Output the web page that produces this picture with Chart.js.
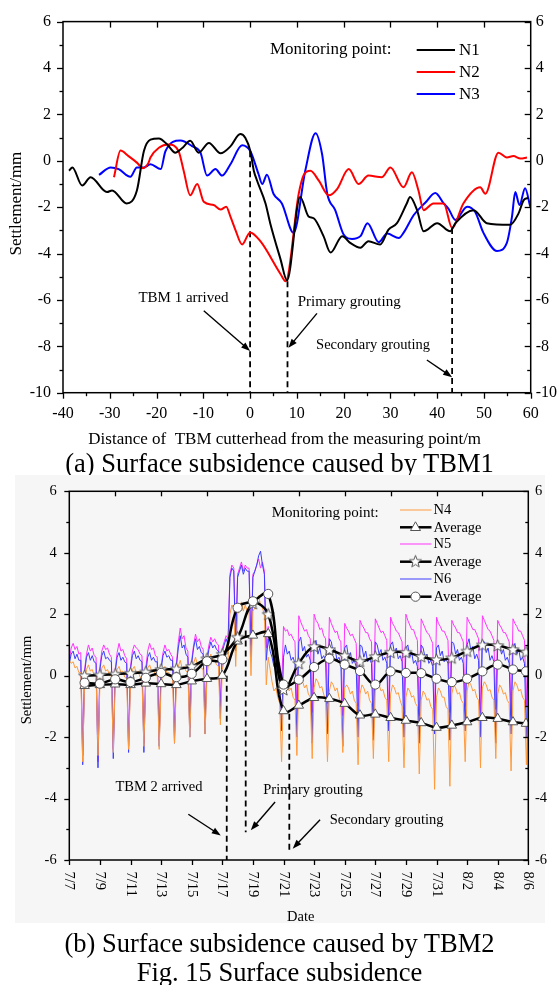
<!DOCTYPE html>
<html>
<head>
<meta charset="utf-8">
<title>Fig. 15 Surface subsidence</title>
<script src="https://cdn.jsdelivr.net/npm/chart.js@4.4.1/dist/chart.umd.min.js"></script>
<style>
  html, body { margin: 0; padding: 0; background: #fff; }
  body { position: relative; width: 559px; height: 985px; overflow: hidden; font-family: "Liberation Serif", "Times New Roman", serif; }
  canvas { position: absolute; left: 0; }
  #chartA { top: 0; }
  #chartB { top: 470px; }
  .caption { position: absolute; left: 0; width: 559px; text-align: center; font-size: 26.5px; line-height: 30px; color: #000; white-space: nowrap; }
</style>
</head>
<body>
<canvas id="chartA" width="559" height="452"></canvas>
<div class="caption" style="top:448px">(a) Surface subsidence caused by TBM1</div>
<canvas id="chartB" width="559" height="455"></canvas>
<div class="caption" style="top:928px">(b) Surface subsidence caused by TBM2</div>
<div class="caption" style="top:957px">Fig. 15 Surface subsidence</div>

<script>
// =================== (a) DATA: settlement vs. distance of TBM1 cutterhead ===================
const n1Dist = [-38.7, -38, -35.9, -34.1, -30.6, -29.5, -26.4, -24.2, -22.7, -21.3, -19.5, -17.7, -16, -14.5, -12.8, -11, -8.8, -6.3, -4.2, -2.1, -1, 0.06, 0.8, 1.5, 3.3, 4.3, 6.5, 7.9, 10.7, 12.5, 13.6, 15.7, 17.2, 19.7, 21.4, 23.6, 25.3, 27.8, 29.6, 31.4, 33.5, 34.2, 35.7, 37.1, 40, 42.8, 43.9, 47.8, 50.6, 55.6, 57.4, 58.5, 59.5];
const n1Settle = [-0.43, -0.29, -1.07, -0.71, -1.35, -1.28, -1.84, -1.28, 0.42, 0.91, 0.96, 0.7, 0.35, 0.55, 0.86, 0.35, 0.77, 0.32, 0.62, 1.15, 0.98, 0.41, -0.43, -0.86, -1.84, -2.69, -4.24, -5.16, -1.56, -2.4, -2.48, -3.25, -3.96, -3.25, -3.54, -3.75, -3.47, -3.61, -2.97, -2.69, -1.84, -1.56, -2.13, -3.04, -2.69, -3.04, -2.69, -2.13, -2.69, -2.76, -2.27, -1.7, -1.6];

const n2Dist = [-29.1, -27.7, -26, -24.2, -22.9, -21.7, -21.3, -19.5, -17.4, -15.3, -14.2, -12.8, -11.3, -9.9, -7.8, -6.3, -5.1, -4.2, -3.1, -1.7, 0, 2.2, 6.5, 7.6, 10.4, 11.5, 12.9, 14.7, 16.8, 18.6, 21.1, 23.2, 25.3, 28.2, 30, 32.8, 34.6, 36, 37.1, 39.2, 41.4, 43.2, 45.6, 49.2, 50.3, 53.1, 54.9, 56.3, 57.8, 59.2];
const n2Settle = [-0.71, 0.44, 0.2, -0.08, -0.32, -0.08, 0.14, 0.56, 0.7, 0.42, -0.43, -1.49, -1.0, -1.77, -1.91, -2.1, -1.98, -2.41, -3.0, -3.61, -3.09, -3.47, -4.88, -5.2, -1.42, -0.6, -0.43, -0.86, -1.49, -1.22, -0.36, -1.0, -0.64, -0.71, -0.29, -1.14, -0.5, -1.28, -2.13, -1.84, -1.84, -2.9, -1.84, -1.14, -1.42, 0.35, 0.14, 0.2, 0.1, 0.14];

const n3Dist = [-32.3, -29.8, -28.1, -25.6, -24.2, -22.7, -21.3, -19.1, -18.1, -14.9, -12.4, -10.6, -9.2, -7.4, -6, -4.2, -1.7, 0.06, 1.8, 2.6, 3.6, 5, 6.8, 9.3, 11.8, 14, 15.4, 16.5, 18.2, 20, 21.8, 23.6, 25.1, 27.5, 29.3, 31.8, 32.8, 35, 37.5, 39.6, 41.4, 42.4, 43.9, 46.4, 48.1, 49.9, 52.8, 54.9, 56, 56.7, 57.6, 58.8, 59.9];
const n3Settle = [-0.61, -0.29, -0.36, -0.69, -0.29, -0.29, -0.15, -0.36, 0.41, 0.87, 0.63, 0.35, -0.64, -0.36, -0.64, -0.15, 0.67, 0.41, -0.57, -1.0, -0.6, -1.42, -1.84, -3.11, -0.43, 1.19, 0.28, -1.42, -2.13, -3.18, -3.37, -3.25, -2.69, -3.51, -3.14, -3.33, -3.11, -2.34, -1.8, -1.39, -1.84, -2.06, -2.55, -1.98, -2.2, -3.11, -3.89, -3.54, -2.41, -1.35, -1.91, -1.18, -1.98];

// event markers (distance, top of the dashed line)
const eventsA = [[0, 0.41], [8, -5.2], [43.2, -2.9]];

// =================== (b) DATA: settlement vs. date, TBM2 ===================
// readings every 3 hours from 7/7 00:00 (eight per day)
const sampleHours = 3;
const n4Settle = [
  0.5, 0.4, 0.45, 0.25, 0.3, 0.1, 0.1, -2.8,
  -0.2, 0.2, 0.35, 0.15, 0.2, 0.0, 0.0, -2.6,
  -0.3, 0.25, 0.35, 0.15, 0.2, 0.0, 0.0, -2.5,
  -0.2, 0.2, 0.3, 0.1, 0.15, -0.05, -0.1, -2.4,
  -0.3, 0.2, 0.3, 0.1, 0.15, -0.05, -0.1, -2.3,
  -0.2, 0.25, 0.35, 0.15, 0.2, 0.0, 0.0, -2.4,
  -0.3, 0.2, 0.3, 0.1, 0.1, -0.05, -0.1, -2.2,
  -0.2, 0.3, 0.5, 0.25, 0.3, 0.15, 0.1, -2.0,
  -0.1, 0.4, 0.6, 0.35, 0.4, 0.25, 0.2, -1.9,
  0.0, 0.5, 0.7, 0.45, 0.5, 0.35, 0.3, -1.6,
  0.2, 0.5, 0.6, 0.5, 2.0, 2.3, 2.2, 0.3,
  2.0, 2.2, 2.4, 2.1, 2.3, 2.1, 2.1, 0.0,
  2.1, 2.2, 2.4, 2.6, 2.3, 2.2, 2.0, -0.3,
  0.6, 0.2, -0.2, -0.5, -0.4, -0.7, -0.9, -2.8,
  -0.5, -0.2, -0.3, -0.5, -0.4, -0.7, -0.8, -2.6,
  -0.3, 0.0, -0.2, -0.4, -0.3, -0.6, -0.7, -2.7,
  -0.4, -0.1, -0.2, -0.4, -0.35, -0.6, -0.8, -2.8,
  -0.5, -0.2, -0.3, -0.5, -0.4, -0.7, -0.9, -2.5,
  -0.4, -0.3, -0.4, -0.6, -0.5, -0.8, -0.9, -2.9,
  -0.6, -0.3, -0.4, -0.6, -0.5, -0.8, -0.9, -2.7,
  -0.5, -0.2, -0.3, -0.5, -0.45, -0.7, -0.8, -2.8,
  -0.6, -0.3, -0.4, -0.6, -0.55, -0.8, -1.0, -3.0,
  -0.7, -0.4, -0.5, -0.7, -0.65, -0.9, -1.0, -3.2,
  -0.8, -0.5, -0.6, -0.8, -0.75, -1.0, -1.1, -3.7,
  -0.7, -0.4, -0.5, -0.7, -0.7, -1.0, -1.1, -3.6,
  -0.6, -0.3, -0.4, -0.6, -0.55, -0.8, -0.9, -2.8,
  -0.5, -0.2, -0.3, -0.5, -0.45, -0.7, -0.8, -3.0,
  -0.4, -0.2, -0.3, -0.5, -0.45, -0.7, -0.8, -2.7,
  -0.6, -0.3, -0.4, -0.6, -0.55, -0.8, -0.9, -3.1,
  -0.5, -0.2, -0.3, -0.5, -0.45, -0.7, -0.8, -2.9,
  -0.4
];
const n5Settle = [
  0.5, 0.9, 1.05, 0.85, 0.95, 0.7, 0.75, -2.6,
  0.2, 0.7, 1.0, 0.8, 0.9, 0.65, 0.6, -2.8,
  0.3, 0.8, 1.0, 0.85, 0.9, 0.7, 0.6, -2.4,
  0.2, 0.75, 1.05, 0.8, 0.85, 0.65, 0.55, -2.3,
  0.3, 0.8, 1.0, 0.9, 0.85, 0.7, 0.65, -2.2,
  0.25, 0.8, 1.05, 0.85, 0.9, 0.65, 0.6, -2.1,
  0.3, 0.75, 1.0, 0.8, 0.85, 0.7, 0.6, -2.0,
  0.4, 1.1, 1.55, 1.2, 1.3, 0.9, 0.8, -1.7,
  0.5, 1.0, 1.35, 1.1, 1.2, 0.95, 0.85, -1.6,
  0.6, 1.0, 1.25, 1.1, 1.2, 1.05, 1.0, -1.0,
  0.9, 1.1, 1.3, 1.2, 3.3, 3.6, 3.5, 1.2,
  3.3, 3.5, 3.7, 3.4, 3.6, 3.5, 3.5, 1.0,
  3.3, 3.4, 3.6, 3.8, 3.5, 3.7, 3.4, 0.9,
  1.6, 1.2, 0.9, 0.6, 0.7, 0.5, 0.4, -0.6,
  1.6, 1.45, 1.5, 1.3, 1.35, 1.2, 1.1, -1.1,
  1.95, 1.75, 1.6, 1.45, 1.5, 1.3, 1.2, -1.2,
  2.0, 1.8, 1.7, 1.5, 1.55, 1.3, 1.2, -0.9,
  1.9, 1.7, 1.55, 1.4, 1.45, 1.2, 1.1, -1.3,
  1.7, 1.55, 1.45, 1.3, 1.35, 1.2, 1.05, -1.0,
  1.8, 1.65, 1.55, 1.4, 1.4, 1.2, 1.1, -1.2,
  1.85, 1.7, 1.55, 1.4, 1.45, 1.3, 1.15, -1.4,
  1.9, 1.7, 1.6, 1.45, 1.4, 1.25, 1.1, -1.1,
  2.0, 1.8, 1.65, 1.5, 1.5, 1.3, 1.15, -1.3,
  1.85, 1.7, 1.55, 1.4, 1.35, 1.2, 1.05, -1.5,
  1.9, 1.7, 1.6, 1.45, 1.45, 1.3, 1.15, -1.2,
  1.8, 1.65, 1.55, 1.4, 1.4, 1.25, 1.1, -1.0,
  1.9, 1.75, 1.65, 1.5, 1.5, 1.35, 1.2, -1.2,
  1.95, 1.8, 1.65, 1.5, 1.45, 1.3, 1.15, -1.1,
  1.8, 1.65, 1.55, 1.4, 1.4, 1.25, 1.1, -1.3,
  1.85, 1.7, 1.6, 1.45, 1.45, 1.3, 1.15, -1.0,
  1.7
];
const n6Settle = [
  0.4, 0.7, 0.8, 0.55, 0.7, 0.5, 0.5, -2.9,
  0.1, 0.6, 0.75, 0.5, 0.65, 0.45, 0.4, -3.0,
  0.2, 0.65, 0.8, 0.55, 0.6, 0.5, 0.45, -2.7,
  0.1, 0.6, 0.75, 0.5, 0.6, 0.45, 0.4, -2.5,
  0.2, 0.65, 0.8, 0.55, 0.65, 0.5, 0.45, -2.5,
  0.1, 0.6, 0.75, 0.5, 0.6, 0.45, 0.45, -2.3,
  0.2, 0.65, 0.8, 0.6, 0.65, 0.5, 0.5, -2.2,
  0.3, 0.9, 1.3, 0.9, 1.0, 0.7, 0.6, -2.0,
  0.4, 0.9, 1.2, 0.85, 0.95, 0.75, 0.7, -1.9,
  0.5, 0.85, 1.1, 0.9, 1.0, 0.85, 0.8, -1.4,
  0.8, 1.0, 1.2, 1.0, 3.2, 3.5, 3.4, 0.8,
  3.2, 3.4, 3.6, 3.3, 3.5, 3.4, 3.4, 0.6,
  3.2, 3.4, 3.6, 3.9, 4.05, 3.6, 3.3, 0.5,
  1.2, 0.8, 0.6, 0.3, 0.4, 0.1, -0.2, -1.8,
  0.6, 1.0, 0.7, 0.8, 0.5, 0.6, 0.4, -2.0,
  1.1, 1.25, 0.8, 0.95, 0.6, 0.7, 0.5, -2.2,
  1.0, 1.15, 0.7, 0.9, 0.55, 0.65, 0.5, -1.9,
  1.2, 1.1, 0.75, 0.85, 0.5, 0.6, 0.4, -2.3,
  0.9, 1.0, 0.6, 0.75, 0.4, 0.5, 0.3, -2.0,
  1.0, 0.95, 0.6, 0.8, 0.45, 0.55, 0.4, -2.1,
  1.1, 1.0, 0.7, 0.85, 0.5, 0.6, 0.4, -1.8,
  1.0, 1.1, 0.75, 0.9, 0.55, 0.65, 0.45, -2.0,
  0.9, 1.0, 0.6, 0.75, 0.4, 0.5, 0.3, -2.2,
  1.0, 0.9, 0.6, 0.7, 0.4, 0.5, 0.3, -1.9,
  0.9, 1.0, 0.65, 0.8, 0.45, 0.55, 0.4, -2.1,
  1.1, 1.05, 0.7, 0.85, 0.5, 0.6, 0.4, -1.8,
  1.0, 1.2, 0.8, 0.95, 0.55, 0.7, 0.5, -2.0,
  1.1, 1.1, 0.75, 0.9, 0.5, 0.65, 0.45, -2.2,
  1.0, 1.0, 0.7, 0.85, 0.5, 0.6, 0.4, -1.9,
  0.9, 1.05, 0.7, 0.85, 0.5, 0.6, 0.4, -2.0,
  0.9
];

// daily averages (days after 7/7)
const avgDays = [1, 2, 3, 4, 5, 6, 7, 8, 9, 10, 11, 12, 13, 14, 15, 16, 17, 18, 19, 20, 21, 22, 23, 24, 25, 26, 27, 28, 29, 29.85];
const n4Avg = [-0.33, -0.3, -0.28, -0.3, -0.25, -0.27, -0.3, -0.18, -0.1, 0.0, 1.12, 1.31, 1.36, -1.15, -0.97, -0.72, -0.75, -0.91, -1.29, -1.26, -1.37, -1.46, -1.54, -1.69, -1.62, -1.51, -1.37, -1.4, -1.51, -1.56];
const n5Avg = [0.0, 0.02, 0.05, 0.08, 0.12, 0.2, 0.22, 0.3, 0.55, 0.7, 1.25, 2.35, 2.0, -0.45, 0.4, 0.95, 0.85, 0.65, 0.47, 0.62, 0.76, 0.76, 0.62, 0.52, 0.58, 0.8, 1.0, 0.98, 0.85, 0.77];
const n6Avg = [-0.23, -0.26, -0.12, -0.21, -0.07, 0.09, -0.05, 0.06, 0.47, 0.53, 2.21, 2.42, 2.66, -0.29, -0.13, 0.28, 0.55, 0.36, 0.15, -0.29, 0.14, 0.09, 0.08, -0.1, -0.21, -0.1, 0.14, 0.36, 0.2, 0.14];

const dateLabels = ['7/7', '7/9', '7/11', '7/13', '7/15', '7/17', '7/19', '7/21', '7/23', '7/25', '7/27', '7/29', '7/31', '8/2', '8/4', '8/6'];
const dateTickDays = [0, 2, 4, 6, 8, 10, 12, 14, 16, 18, 20, 22, 24, 26, 28, 30];

// event markers (day, top and bottom of the dashed line)
const eventsB = [[10.29, 0, -6], [11.53, 1.47, -5.1], [14.38, -1.24, -5.8]];

// =================== HELPERS ===================
const SERIF = '"Liberation Serif", "Times New Roman", serif';
const pts = (xs, ys) => xs.map((x, i) => ({ x: x, y: ys[i] }));
const series = arr => arr.map((v, i) => ({ x: i * sampleHours / 24, y: v }));
const range = (a, b, s) => { const r = []; for (let v = a; v <= b + 1e-9; v += s) r.push(v); return r; };

function drawArrow(c, x1, y1, x2, y2) {
  const ang = Math.atan2(y2 - y1, x2 - x1), hl = 9, hw = 3.3;
  c.lineWidth = 1.4;
  c.beginPath(); c.moveTo(x1, y1); c.lineTo(x2 - Math.cos(ang) * hl * 0.7, y2 - Math.sin(ang) * hl * 0.7); c.stroke();
  c.beginPath();
  c.moveTo(x2, y2);
  c.lineTo(x2 - hl * Math.cos(ang) + hw * Math.sin(ang), y2 - hl * Math.sin(ang) - hw * Math.cos(ang));
  c.lineTo(x2 - hl * Math.cos(ang) - hw * Math.sin(ang), y2 - hl * Math.sin(ang) + hw * Math.cos(ang));
  c.closePath(); c.fill();
}

// box + tick marks (len > 0 points outwards, < 0 inwards)
function drawFrame(chart, tickSets) {
  const c = chart.ctx, a = chart.chartArea, sx = chart.scales.x, sy = chart.scales.y;
  c.strokeStyle = '#000';
  c.lineWidth = 1.5;
  c.strokeRect(a.left, a.top, a.right - a.left, a.bottom - a.top);
  c.lineWidth = 1.3;
  tickSets.forEach(t => {
    const sc = (t.side === 'top' || t.side === 'bottom') ? sx : sy;
    t.values.forEach(v => {
      const p = Math.round(sc.getPixelForValue(v)) + 0.5;
      c.beginPath();
      if (t.side === 'bottom') { c.moveTo(p, a.bottom); c.lineTo(p, a.bottom + t.len); }
      if (t.side === 'top') { c.moveTo(p, a.top); c.lineTo(p, a.top - t.len); }
      if (t.side === 'left') { c.moveTo(a.left, p); c.lineTo(a.left - t.len, p); }
      if (t.side === 'right') { c.moveTo(a.right, p); c.lineTo(a.right + t.len, p); }
      c.stroke();
    });
  });
}

function text(c, str, x, y, font, align, rot) {
  c.save();
  c.font = font;
  c.textAlign = align || 'center';
  c.textBaseline = 'middle';
  c.translate(x, y);
  if (rot) c.rotate(rot);
  c.fillText(str, 0, 0);
  c.restore();
}

function starImage() {
  const cv = document.createElement('canvas');
  cv.width = 15; cv.height = 15;
  const g = cv.getContext('2d');
  g.beginPath();
  for (let i = 0; i < 10; i++) {
    const r = i % 2 ? 2.7 : 6.3, ang = -Math.PI / 2 + i * Math.PI / 5;
    g.lineTo(7.5 + r * Math.cos(ang), 8 + r * Math.sin(ang));
  }
  g.closePath();
  g.fillStyle = '#fff'; g.fill();
  g.strokeStyle = '#555'; g.lineWidth = 1; g.stroke();
  return cv;
}
const starPt = starImage();

const tickFont = size => ({ family: SERIF, size: size });

// =================== CHART (a) ===================
const lineA = (label, xs, ys, color) => ({
  label: label, data: pts(xs, ys), borderColor: color, borderWidth: 2,
  pointRadius: 0, cubicInterpolationMode: 'monotone', fill: false
});
const dashA = eventsA.map(e => ({
  data: [{ x: e[0], y: e[1] }, { x: e[0], y: -10 }], borderColor: '#000', borderWidth: 1.8,
  borderDash: [6, 4], pointRadius: 0, fill: false
}));

const decorA = {
  id: 'decorA',
  afterDraw(chart) {
    const c = chart.ctx, sx = chart.scales.x, sy = chart.scales.y;
    c.save();
    c.fillStyle = '#000';
    drawFrame(chart, [
      { side: 'bottom', values: range(-40, 60, 10), len: 6 },
      { side: 'bottom', values: range(-35, 55, 10), len: 3.5 },
      { side: 'top', values: range(-30, 50, 10), len: -6 },
      { side: 'left', values: range(-10, 6, 2), len: 6 },
      { side: 'left', values: range(-9, 5, 2), len: 3.5 },
      { side: 'right', values: range(-10, 6, 2), len: -6 },
      { side: 'right', values: range(-9, 5, 2), len: -3.5 }
    ]);
    const X = v => sx.getPixelForValue(v), Y = v => sy.getPixelForValue(v);
    const f15 = '15px ' + SERIF;
    text(c, 'TBM 1 arrived', X(-14.25), Y(-5.91), f15);
    text(c, 'Primary grouting', X(21.2), Y(-6.09), f15);
    text(c, 'Secondary grouting', X(26.3), Y(-7.96), '14.5px ' + SERIF);
    drawArrow(c, X(-9.9), Y(-6.47), X(0), Y(-8.2));
    drawArrow(c, X(14.3), Y(-6.58), X(8.2), Y(-8.06));
    drawArrow(c, X(37.8), Y(-8.59), X(43.2), Y(-9.33));
    // legend
    const f17 = '17px ' + SERIF;
    text(c, 'Monitoring point:', 270, 49.5, f17, 'left');
    [['N1', '#000', 50], ['N2', '#f00', 72], ['N3', '#00f', 94]].forEach(r => {
      c.strokeStyle = r[1]; c.lineWidth = 2;
      c.beginPath(); c.moveTo(416.7, r[2]); c.lineTo(455, r[2]); c.stroke();
      text(c, r[0], 459, r[2] + 0.5, f17, 'left');
    });
    // axis titles
    text(c, 'Settlement/mm', 17, 203.6, '17px ' + SERIF, 'center', -Math.PI / 2);
    text(c, 'Distance of  TBM cutterhead from the measuring point/m', 284.7, 439.3, '17px ' + SERIF);
    c.restore();
  }
};

new Chart(document.getElementById('chartA'), {
  type: 'line',
  data: {
    datasets: [
      lineA('N1', n1Dist, n1Settle, '#000000'),
      lineA('N2', n2Dist, n2Settle, '#ff0000'),
      lineA('N3', n3Dist, n3Settle, '#0000ff')
    ].concat(dashA)
  },
  options: {
    responsive: false,
    animation: false,
    layout: { padding: { top: 14.7, left: 0, right: 0, bottom: 0 } },
    plugins: { legend: { display: false }, tooltip: { enabled: false } },
    scales: {
      x: {
        type: 'linear', min: -40, max: 60,
        afterFit: s => { s.height = 59.3; },
        grid: { display: false, drawTicks: false }, border: { display: false },
        ticks: { stepSize: 10, padding: 11, color: '#000', font: tickFont(16), maxRotation: 0, autoSkip: false }
      },
      y: {
        position: 'left', min: -10, max: 6,
        afterFit: s => { s.width = 63; },
        grid: { display: false, drawTicks: false }, border: { display: false },
        ticks: { stepSize: 2, padding: 12, color: '#000', font: tickFont(16) }
      },
      y2: {
        position: 'right', min: -10, max: 6,
        afterFit: s => { s.width = 28.3; },
        grid: { display: false, drawTicks: false }, border: { display: false },
        ticks: { stepSize: 2, padding: 5, color: '#000', font: tickFont(16) }
      }
    }
  },
  plugins: [decorA]
});

// =================== CHART (b) ===================
const avgLine = (data, style, radius) => ({
  data: pts(avgDays, data), borderColor: '#000', borderWidth: 2.5, tension: 0.4,
  pointStyle: style, pointRadius: radius, pointBackgroundColor: '#fff',
  pointBorderColor: '#555', pointBorderWidth: 1, fill: false
});
const rawLine = (data, color) => ({
  data: series(data), borderColor: color, borderWidth: 1, pointRadius: 0, tension: 0, fill: false
});
const dashB = eventsB.map(e => ({
  data: [{ x: e[0], y: e[1] }, { x: e[0], y: e[2] }], borderColor: '#000', borderWidth: 1.8,
  borderDash: [6, 4], pointRadius: 0, fill: false
}));

const N4C = '#ff9a3c', N5C = '#ff33ff', N6C = '#3c3cff';

const decorB = {
  id: 'decorB',
  beforeDraw(chart) {
    const c = chart.ctx;
    c.save();
    c.fillStyle = '#f6f6f6';
    c.fillRect(15, 5, 530, 448);
    c.restore();
  },
  afterDraw(chart) {
    const c = chart.ctx, sx = chart.scales.x, sy = chart.scales.y, a = chart.chartArea;
    c.save();
    c.fillStyle = '#000';
    drawFrame(chart, [
      { side: 'bottom', values: range(0, 30, 2), len: 5 },
      { side: 'top', values: range(3, 27, 3), len: -5 },
      { side: 'left', values: range(-6, 6, 2), len: 5 },
      { side: 'left', values: range(-5, 5, 2), len: 3 },
      { side: 'right', values: range(-6, 6, 2), len: -5 },
      { side: 'right', values: range(-5, 5, 2), len: -3 }
    ]);
    const X = v => sx.getPixelForValue(v), Y = v => sy.getPixelForValue(v);
    const f = '14.5px ' + SERIF;
    // date tick labels, reading top to bottom
    dateLabels.forEach((lab, i) => {
      text(c, lab, X(dateTickDays[i]), a.bottom + 11.5, f, 'left', Math.PI / 2);
    });
    text(c, 'TBM 2 arrived', X(5.86), Y(-3.63), f);
    text(c, 'Primary grouting', X(15.93), Y(-3.73), f);
    text(c, 'Secondary grouting', X(20.74), Y(-4.69), f);
    drawArrow(c, X(7.78), Y(-4.51), X(9.9), Y(-5.2));
    drawArrow(c, X(13.45), Y(-4.11), X(11.86), Y(-5.03));
    drawArrow(c, X(16.39), Y(-4.69), X(14.6), Y(-5.63));
    // legend
    text(c, 'Monitoring point:', 271.7, 42.7, '15px ' + SERIF, 'left');
    const rows = [
      ['N4', N4C, 1, 40, null], ['Average', '#000', 2.5, 57.3, 'triangle'],
      ['N5', N5C, 1, 74, null], ['Average', '#000', 2.5, 91.7, 'star'],
      ['N6', N6C, 1, 109, null], ['Average', '#000', 2.5, 126.7, 'circle']
    ];
    rows.forEach(r => {
      c.strokeStyle = r[1]; c.lineWidth = r[2];
      c.beginPath(); c.moveTo(400, r[3]); c.lineTo(431.5, r[3]); c.stroke();
      const mx = 415.5, my = r[3];
      c.lineWidth = 1; c.strokeStyle = '#555'; c.fillStyle = '#fff';
      if (r[4] === 'triangle') {
        c.beginPath(); c.moveTo(mx, my - 5.5); c.lineTo(mx + 5, my + 3.2); c.lineTo(mx - 5, my + 3.2); c.closePath(); c.fill(); c.stroke();
      } else if (r[4] === 'circle') {
        c.beginPath(); c.arc(mx, my, 4.6, 0, Math.PI * 2); c.fill(); c.stroke();
      } else if (r[4] === 'star') {
        c.drawImage(starPt, mx - 7.5, my - 8);
      }
      c.fillStyle = '#000';
      text(c, r[0], 433.5, r[3] + 0.5, '14.5px ' + SERIF, 'left');
    });
    // axis titles
    text(c, 'Settlement/mm', 26.7, 210, '14.5px ' + SERIF, 'center', -Math.PI / 2);
    text(c, 'Date', 300.8, 446.7, '14.5px ' + SERIF);
    c.restore();
  }
};

new Chart(document.getElementById('chartB'), {
  type: 'line',
  data: {
    datasets: [
      avgLine(n6Avg, 'circle', 4.6),
      avgLine(n5Avg, starPt, 6),
      avgLine(n4Avg, 'triangle', 5.5)
    ].concat(dashB, [
      rawLine(n4Settle, N4C),
      rawLine(n6Settle, N6C),
      rawLine(n5Settle, N5C)
    ])
  },
  options: {
    responsive: false,
    animation: false,
    layout: { padding: { top: 20.7, left: 0, right: 0, bottom: 0 } },
    plugins: { legend: { display: false }, tooltip: { enabled: false } },
    scales: {
      x: {
        type: 'linear', min: 0, max: 30,
        afterFit: s => { s.height = 65; },
        grid: { display: false, drawTicks: false }, border: { display: false },
        ticks: { display: false, stepSize: 2 }
      },
      y: {
        position: 'left', min: -6, max: 6,
        afterFit: s => { s.width = 69.3; },
        grid: { display: false, drawTicks: false }, border: { display: false },
        ticks: { stepSize: 2, padding: 12.6, color: '#000', font: tickFont(14.5) }
      },
      y2: {
        position: 'right', min: -6, max: 6,
        afterFit: s => { s.width = 30.7; },
        grid: { display: false, drawTicks: false }, border: { display: false },
        ticks: { stepSize: 2, padding: 6.7, color: '#000', font: tickFont(14.5) }
      }
    }
  },
  plugins: [decorB]
});
</script>
</body>
</html>
